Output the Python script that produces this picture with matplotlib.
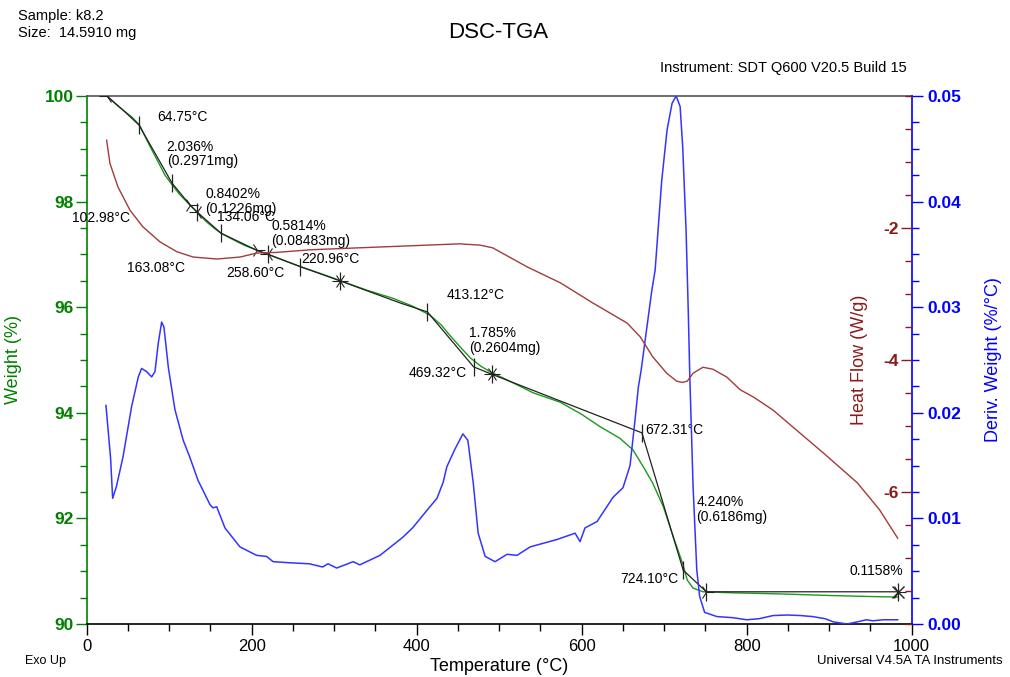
import matplotlib
matplotlib.use('Agg')
import matplotlib.pyplot as plt
from matplotlib.ticker import MultipleLocator, FixedLocator

plt.rcParams['font.family'] = ['Liberation Sans', 'DejaVu Sans']

# TGA weight (%)
weight_T = [24.6, 35, 45, 55, 64, 75, 85, 95, 103, 113, 125, 135, 145, 155, 163, 175, 190, 206,
            220, 240, 258.6, 285, 313, 340, 371, 395, 416, 430, 440, 452, 465, 478, 491, 510,
            541, 574, 600, 622, 646, 662, 675, 686, 699, 711, 722, 728, 735, 747, 784, 840,
            900, 950, 983]
weight_W = [100.0, 99.85, 99.72, 99.6, 99.45, 99.1, 98.8, 98.5, 98.33, 98.13, 97.94, 97.78, 97.62,
            97.49, 97.4, 97.3, 97.18, 97.08, 97.0, 96.88, 96.77, 96.63, 96.47, 96.32, 96.17,
            96.02, 95.85, 95.66, 95.47, 95.26, 95.04, 94.88, 94.76, 94.62, 94.38, 94.2, 93.97,
            93.74, 93.52, 93.3, 92.97, 92.67, 92.22, 91.65, 91.16, 90.83, 90.68, 90.61, 90.59,
            90.57, 90.54, 90.52, 90.51]

# heat flow (W/g)
heat_T = [24.2, 28.2, 38, 52.5, 68, 88.8, 109.4, 129, 158, 186, 206, 230, 271, 331, 392, 452,
          477, 492, 534, 574, 614, 655, 671, 686, 703, 715, 722, 728, 735, 747, 759, 776, 792,
          808, 832, 862, 893, 934, 961, 983]
heat_H = [-0.67, -1.02, -1.38, -1.73, -1.98, -2.21, -2.36, -2.44, -2.47, -2.44, -2.38, -2.37,
          -2.33, -2.30, -2.27, -2.24, -2.26, -2.30, -2.59, -2.83, -3.14, -3.44, -3.65, -3.95,
          -4.20, -4.32, -4.34, -4.32, -4.20, -4.11, -4.14, -4.26, -4.45, -4.56, -4.76, -5.08,
          -5.41, -5.86, -6.27, -6.70]

# derivative weight (%/°C)
deriv_T = [23.4, 29, 31.5, 36, 44, 54.5, 62.6, 66.6, 72.7, 78.8, 82.8, 86.8, 90.9, 93.7, 99,
           107, 117, 125, 135, 149.5, 153, 157.6, 167.6, 185.8, 206, 218, 226, 246, 270, 286,
           292.5, 303, 323, 331, 355.5, 383, 395, 407.6, 416, 424.6, 432, 436.6, 446, 456, 462,
           468.5, 474.5, 483, 495, 509.5, 521.6, 537.5, 570, 592, 598, 604, 618.6, 638, 650,
           658.6, 664.6, 668.6, 672, 685, 689, 695, 697, 703.5, 709.5, 714.5, 719.3, 722.4,
           726.5, 729.2, 731, 735, 739.5, 743, 749, 764, 783, 800, 815, 832, 849, 865, 880,
           895, 905, 921.6, 934, 945, 953, 965, 983]
deriv_D = [0.0207, 0.0157, 0.0119, 0.0130, 0.0158, 0.0206, 0.0234, 0.0242, 0.0239, 0.0234,
           0.0239, 0.0266, 0.0286, 0.0281, 0.0243, 0.0203, 0.0174, 0.0158, 0.0136, 0.0113,
           0.0110, 0.0111, 0.0091, 0.0073, 0.0065, 0.0064, 0.0059, 0.0058, 0.0057, 0.0054,
           0.0057, 0.0053, 0.0059, 0.0056, 0.0065, 0.0082, 0.0091, 0.0103, 0.0111, 0.0119,
           0.0134, 0.0149, 0.0165, 0.0180, 0.0174, 0.0134, 0.0086, 0.0064, 0.0059, 0.0066,
           0.0065, 0.0073, 0.0080, 0.0086, 0.0078, 0.0091, 0.0097, 0.0120, 0.0129, 0.0150,
           0.0193, 0.0224, 0.0240, 0.0316, 0.0335, 0.0399, 0.0420, 0.0468, 0.0493, 0.0500,
           0.0490, 0.0452, 0.0373, 0.0295, 0.0235, 0.0130, 0.0051, 0.0026, 0.0011, 0.0007,
           0.0006, 0.0004, 0.0005, 0.0008, 0.00085, 0.0008, 0.0007, 0.0005, 0.0002, 0.0000,
           0.0002, 0.0004, 0.0003, 0.0004, 0.0004]

# step analysis construction lines
step_T = [24.6, 45, 63.4, 103.5, 125, 134, 163, 206, 220, 258.6, 307, 380, 413, 469, 491, 673,
          723, 751, 983]
step_W = [100.0, 99.72, 99.45, 98.35, 97.94, 97.8, 97.4, 97.08, 97.0, 96.77, 96.5, 96.08,
          95.91, 94.87, 94.73, 93.62, 91.02, 90.61, 90.61]
tick_T = [63.4, 103.5, 134, 163, 220, 258.6, 307, 413, 469, 491, 673, 723, 751, 983]
tick_W = [99.45, 98.35, 97.8, 97.4, 97.0, 96.77, 96.5, 95.91, 94.87, 94.73, 93.62, 91.02, 90.61, 90.61]
end_T = [125, 206, 307, 491, 751, 983]
end_W = [97.94, 97.08, 96.5, 94.73, 90.61, 90.61]
start_T = [24.6, 134, 220, 307, 491]
start_W = [100.0, 97.8, 97.0, 96.5, 94.73]

# annotation labels (text, T, W)
labels = [
    ('64.75°C', 85, 99.61),
    ('2.036%\n(0.2971mg)', 97, 98.90),
    ('0.8402%\n(0.1226mg)', 144, 98.0),
    ('102.98°C', -18, 97.68),
    ('134.06°C', 157.5, 97.71),
    ('0.5814%\n(0.08483mg)', 224, 97.40),
    ('163.08°C', 48.5, 96.75),
    ('220.96°C', 259.5, 96.91),
    ('258.60°C', 169.5, 96.64),
    ('413.12°C', 436, 96.24),
    ('1.785%\n(0.2604mg)', 463, 95.37),
    ('469.32°C', 390, 94.75),
    ('672.31°C', 677, 93.67),
    ('4.240%\n(0.6186mg)', 739, 92.17),
    ('724.10°C', 647, 90.85),
    ('0.1158%', 924, 91.0),
]

green = '#008000'
dred = '#8b1a1a'
blue = '#0000ff'

fig = plt.figure(figsize=(10.1, 6.77), dpi=100)
ax = fig.add_axes([0.0858, 0.0783, 0.8169, 0.7799])
ax2 = ax.twinx()
ax3 = ax.twinx()

ax.plot(weight_T, weight_W, color='#1a9a1a', lw=1.0, zorder=2)
ax.plot(step_T, step_W, color='#222222', lw=0.9, zorder=3)
ax.plot(tick_T, tick_W, ls='none', marker='|', ms=13, mew=0.9, color='#222222', zorder=3)
ax.plot(end_T, end_W, ls='none', marker='4', ms=11, mew=0.8, color='#222222', zorder=3)
ax.plot(start_T, start_W, ls='none', marker='3', ms=11, mew=0.8, color='#222222', zorder=3)
ax.plot([983], [90.61], ls='none', marker='x', ms=9, mew=1.0, color='#222222', zorder=3)
for txt, t, w in labels:
    ax.text(t, w, txt, fontsize=10, ha='left', va='center', linespacing=1.05, zorder=4)

ax2.plot(deriv_T, deriv_D, color='#3434ff', lw=1.1)
ax3.plot(heat_T, heat_H, color='#a03c3c', lw=1.0)

ax.set_xlim(0, 1000)
ax.set_ylim(90, 100)
ax2.set_ylim(0, 0.05)
ax3.set_ylim(-8, 0)

ax.xaxis.set_major_locator(MultipleLocator(200))
ax.xaxis.set_minor_locator(MultipleLocator(50))
ax.yaxis.set_major_locator(MultipleLocator(2))
ax.yaxis.set_minor_locator(MultipleLocator(0.5))
ax.tick_params(axis='x', which='major', length=8, width=1, labelsize=12, pad=3)
ax.tick_params(axis='x', which='minor', length=5, width=1)
ax.tick_params(axis='y', which='major', length=8, width=1, colors=green, labelsize=12.5, pad=1.5)
ax.tick_params(axis='y', which='minor', length=5, width=1, colors=green)
for t in ax.get_yticklabels():
    t.set_fontweight('bold')
ax.set_ylabel('Weight (%)', color=green, fontsize=13, labelpad=16)
ax.set_xlabel('Temperature (°C)', fontsize=13, labelpad=3)

ax2.yaxis.set_major_locator(MultipleLocator(0.01))
ax2.yaxis.set_minor_locator(MultipleLocator(0.0025))
ax2.set_yticks([0, 0.01, 0.02, 0.03, 0.04, 0.05])
ax2.set_yticklabels(['0.00', '0.01', '0.02', '0.03', '0.04', '0.05'])
ax2.tick_params(axis='y', which='major', length=8, width=1, colors=blue, labelsize=12.5)
ax2.tick_params(axis='y', which='minor', length=5, width=1, colors=blue)
for t in ax2.get_yticklabels():
    t.set_fontweight('bold')
ax2.set_ylabel('Deriv. Weight (%/°C)', color=blue, fontsize=13)
ax2.yaxis.set_label_coords(1.089, 0.5)

ax3.yaxis.set_major_locator(FixedLocator([-2, -4, -6]))
ax3.yaxis.set_minor_locator(MultipleLocator(0.5))
ax3.set_yticks([-2, -4, -6])
ax3.set_yticklabels(['-2', '-4', '-6'])
ax3.tick_params(axis='y', which='major', direction='in', length=8, width=1, colors=dred,
                labelsize=12.5, pad=-9)
ax3.tick_params(axis='y', which='minor', direction='in', length=5, width=1, colors=dred)
for t in ax3.get_yticklabels():
    t.set_fontweight('bold')
    t.set_horizontalalignment('right')
ax3.set_ylabel('Heat Flow (W/g)', color=dred, fontsize=13)
ax3.yaxis.set_label_coords(0.926, 0.5)
ax3.spines['right'].set_visible(False)

ax.spines['left'].set_color(green)
ax.spines['top'].set_color('#555555')
ax.spines['right'].set_visible(False)
ax2.spines['right'].set_color(blue)
ax2.spines['left'].set_visible(False)
ax2.spines['top'].set_visible(False)
ax2.spines['bottom'].set_visible(False)
ax3.spines['left'].set_visible(False)
ax3.spines['top'].set_visible(False)
ax3.spines['bottom'].set_visible(False)
for a in (ax, ax2, ax3):
    for s in a.spines.values():
        s.set_linewidth(1.2)

fig.text(0.018, 0.976, 'Sample: k8.2', fontsize=10.5, ha='left', va='center')
fig.text(0.018, 0.951, 'Size:  14.5910 mg', fontsize=10.5, ha='left', va='center')
fig.text(0.493, 0.952, 'DSC-TGA', fontsize=16, ha='center', va='center')
fig.text(0.898, 0.899, 'Instrument: SDT Q600 V20.5 Build 15', fontsize=10.5, ha='right', va='center')
fig.text(0.025, 0.023, 'Exo Up', fontsize=9, ha='left', va='center')
fig.text(0.993, 0.023, 'Universal V4.5A TA Instruments', fontsize=9.5, ha='right', va='center')

fig.savefig('out.png', dpi=100)
